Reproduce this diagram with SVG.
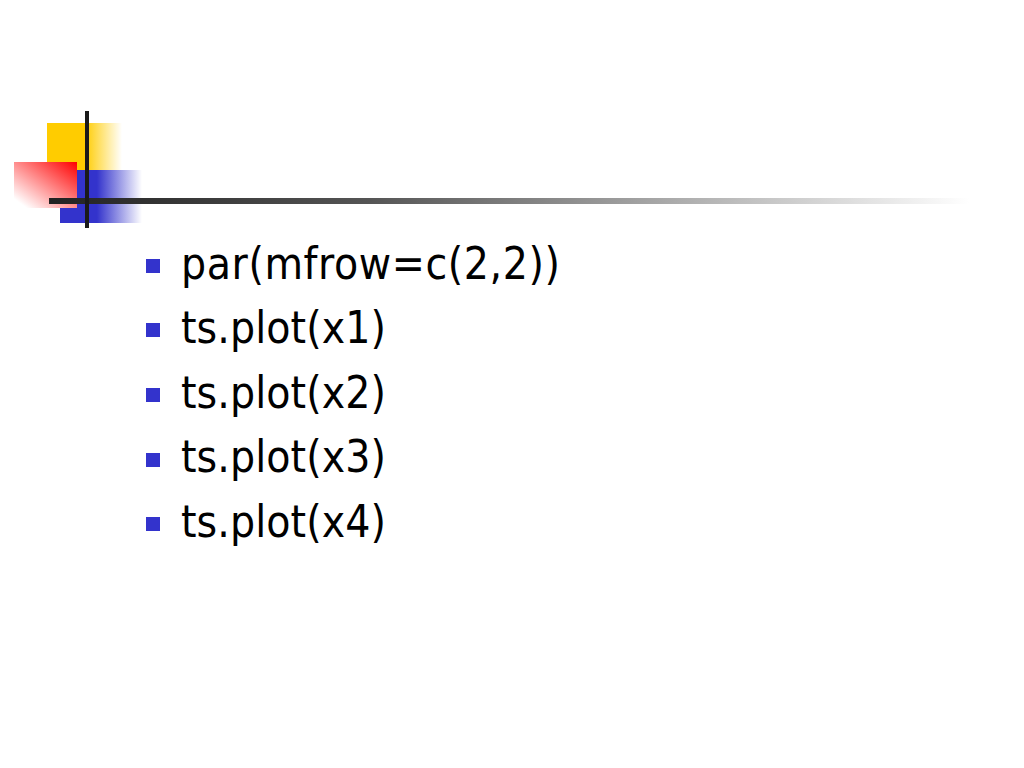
<svg xmlns="http://www.w3.org/2000/svg" width="1024" height="768" viewBox="0 0 1024 768">
<defs>
<linearGradient id="gy" x1="0" y1="0" x2="1" y2="0"><stop offset="0.5" stop-color="#FFCC00"/><stop offset="1" stop-color="#FFCC00" stop-opacity="0"/></linearGradient>
<linearGradient id="gb" x1="0" y1="0" x2="1" y2="0"><stop offset="0.45" stop-color="#3333CC"/><stop offset="1" stop-color="#3333CC" stop-opacity="0"/></linearGradient>
<linearGradient id="gr" x1="1" y1="0" x2="0" y2="1"><stop offset="0" stop-color="#FF0000"/><stop offset="0.9" stop-color="#FFFFFF"/></linearGradient>
<linearGradient id="gl" x1="0" y1="0" x2="1" y2="0"><stop offset="0" stop-color="#222222"/><stop offset="0.35" stop-color="#555555"/><stop offset="1" stop-color="#FFFFFF"/></linearGradient>
<style>
.t{font-family:"DejaVu Sans Condensed","DejaVu Sans",Tahoma,sans-serif;font-size:44px;fill:#000}
.b{fill:#3333CC}
</style>
</defs>
<rect width="1024" height="768" fill="#fff"/>
<g id="decor">
<rect x="47" y="123" width="75" height="47" fill="url(#gy)"/>
<rect x="60" y="170" width="82" height="53" fill="url(#gb)"/>
<rect x="14" y="162" width="63" height="46" fill="url(#gr)"/>
<rect x="49" y="198" width="920" height="6" fill="url(#gl)"/>
<rect x="85" y="111" width="4" height="117" fill="#1a1a1a"/>
</g>
<g id="bullets">
<rect class="b" x="146" y="259" width="14" height="14"/>
<rect class="b" x="146" y="323" width="14" height="14"/>
<rect class="b" x="146" y="388" width="14" height="14"/>
<rect class="b" x="146" y="453" width="14" height="14"/>
<rect class="b" x="146" y="517" width="14" height="14"/>
</g>
<g id="text">
<text class="t" x="181" y="279" textLength="379">par(mfrow=c(2,2))</text>
<text class="t" x="181" y="343" textLength="205">ts.plot(x1)</text>
<text class="t" x="181" y="408" textLength="205">ts.plot(x2)</text>
<text class="t" x="181" y="472" textLength="205">ts.plot(x3)</text>
<text class="t" x="181" y="537" textLength="205">ts.plot(x4)</text>
</g>
</svg>
